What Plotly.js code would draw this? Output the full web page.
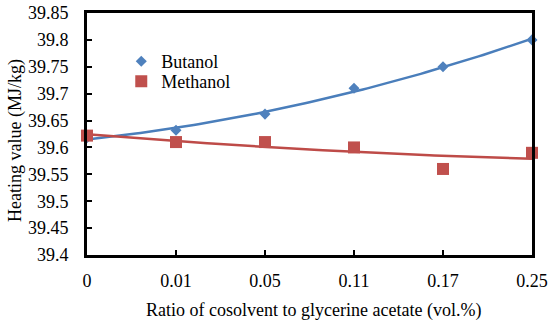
<!DOCTYPE html>
<html>
<head>
<meta charset="utf-8">
<script src="https://cdn.plot.ly/plotly-3.0.1.min.js"></script>
<style>html,body{margin:0;padding:0;background:#fff;}#chart{width:550px;height:324px;}</style>
</head>
<body>
<div id="chart"></div>
<script>
const categories = ["0", "0.01", "0.05", "0.11", "0.17", "0.25"];
const butanol = [39.618, 39.632, 39.662, 39.710, 39.750, 39.800];
const methanol = [39.622, 39.610, 39.610, 39.600, 39.560, 39.590];
const yTicks = [39.4, 39.45, 39.5, 39.55, 39.6, 39.65, 39.7, 39.75, 39.8, 39.85];
const yTickText = ["39.4", "39.45", "39.5", "39.55", "39.6", "39.65", "39.7", "39.75", "39.8", "39.85"];
const xTitle = 'Ratio of cosolvent to glycerine acetate (vol.%)';
const yTitle = 'Heating value (MJ/kg)';

// Quadratic least-squares trendline (like an Excel polynomial trendline)
function polyFit2(ys) {
  const n = ys.length;
  let S = [0,0,0,0,0], T = [0,0,0];
  for (let i = 0; i < n; i++) {
    const x = i + 1;
    for (let k = 0; k < 5; k++) S[k] += Math.pow(x, k);
    for (let k = 0; k < 3; k++) T[k] += ys[i] * Math.pow(x, k);
  }
  const A = [[S[0],S[1],S[2],T[0]],[S[1],S[2],S[3],T[1]],[S[2],S[3],S[4],T[2]]];
  for (let c = 0; c < 3; c++) {
    for (let r = c + 1; r < 3; r++) {
      const f = A[r][c] / A[c][c];
      for (let k = c; k < 4; k++) A[r][k] -= f * A[c][k];
    }
  }
  const co = [0,0,0];
  for (let r = 2; r >= 0; r--) {
    let s = A[r][3];
    for (let k = r + 1; k < 3; k++) s -= A[r][k] * co[k];
    co[r] = s / A[r][r];
  }
  return co;
}
function curve(ys) {
  const co = polyFit2(ys);
  const xs = [], vs = [];
  for (let j = 0; j <= 100; j++) {
    const xi = (ys.length - 1) * j / 100;
    const x = xi + 1;
    xs.push(xi); vs.push(co[0] + co[1]*x + co[2]*x*x);
  }
  return {xs, vs};
}
const idx = categories.map((c, i) => i);
const cb = curve(butanol), cm = curve(methanol);
const blue = '#4F81BD', blueLine = '#4A7EBB', red = '#C0504D', redLine = '#BE4B48';
const font = {family: '"Liberation Serif", "Times New Roman", serif', size: 18, color: '#000'};

const traces = [
  {x: cb.xs, y: cb.vs, mode: 'lines', line: {color: blueLine, width: 2.5}, showlegend: false, hoverinfo: 'skip', cliponaxis: false},
  {x: cm.xs, y: cm.vs, mode: 'lines', line: {color: redLine, width: 2.5}, showlegend: false, hoverinfo: 'skip', cliponaxis: false},
  {x: idx, y: butanol, name: 'Butanol', mode: 'markers', marker: {symbol: 'diamond', size: 8.5, color: blue}, cliponaxis: false, legend: 'legend'},
  {x: idx, y: methanol, name: 'Methanol', mode: 'markers', marker: {symbol: 'square', size: 12, color: red}, cliponaxis: false, legend: 'legend2'}
];
const legBase = {xanchor: 'left', yanchor: 'middle', bgcolor: 'rgba(0,0,0,0)', font: font, itemsizing: 'trace', borderwidth: 0};
const layout = {
  width: 550, height: 324,
  margin: {l: 87, r: 18, t: 13, b: 69},
  paper_bgcolor: '#fff', plot_bgcolor: '#fff',
  font: font,
  showlegend: true,
  legend: Object.assign({x: 0.077, y: (255 - 61.5) / 242}, legBase),
  legend2: Object.assign({x: 0.077, y: (255 - 81.5) / 242}, legBase),
  xaxis: {
    range: [0, 5], tickmode: 'array', tickvals: idx, ticktext: categories,
    showgrid: false, zeroline: false, showline: true, linecolor: '#000', linewidth: 3, mirror: true,
    ticks: 'inside', ticklen: 5, tickwidth: 2, tickcolor: '#000',
    tickfont: font, ticklabelstandoff: 7
  },
  yaxis: {
    range: [39.4, 39.85], tickmode: 'array', tickvals: yTicks, ticktext: yTickText,
    showgrid: false, zeroline: false, showline: true, linecolor: '#000', linewidth: 3, mirror: true,
    ticks: 'inside', ticklen: 5, tickwidth: 2, tickcolor: '#000',
    tickfont: font, ticklabelstandoff: 12
  },
  annotations: [
    {text: xTitle, xref: 'paper', yref: 'paper', x: (313 - 87) / 445, y: (255 - 310) / 242,
     xanchor: 'center', yanchor: 'middle', showarrow: false, font: font},
    {text: yTitle, xref: 'paper', yref: 'paper', x: (15 - 87) / 445, y: (255 - 141) / 242,
     xanchor: 'center', yanchor: 'middle', textangle: -90, showarrow: false, font: font}
  ]
};
Plotly.newPlot('chart', traces, layout, {displayModeBar: false, staticPlot: true});
</script>
</body>
</html>
